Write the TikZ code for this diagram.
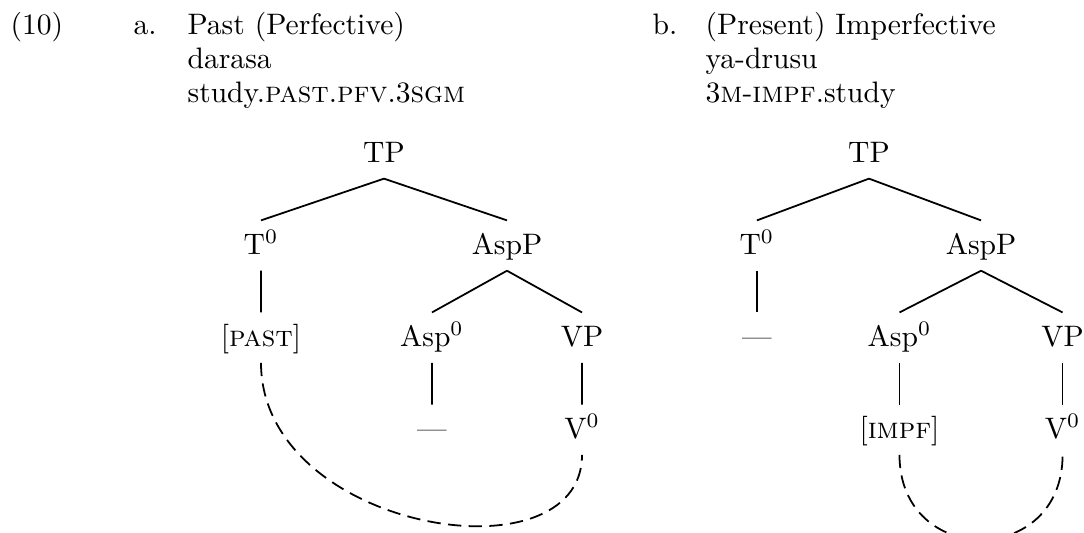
\documentclass[tikz,border=0pt]{standalone}
\usetikzlibrary{trees}

\begin{document}
\begin{tikzpicture}[x=0.3378pt, y=0.3378pt,
level distance=31.1pt,
edge from parent path={(\tikzparentnode.south) -- (\tikzchildnode.north)},
edge from parent/.style={draw, line width=0.6pt},
every child node/.style={cat},
cat/.style={inner sep=2.9pt, text height=8.3pt, text depth=2.5pt},
gloss/.style={inner sep=0pt, anchor=base west},
link/.style={line width=0.6pt, dash pattern=on 4.5pt off 2.5pt}]
\useasboundingbox (0,0) rectangle (1084,533);

% example number and glosses
\node[gloss] (exnum) at (10,498) {(10)};
\node[gloss] (la) at (133,498) {a.};
\node[gloss] (pasttitle) at (187,498) {Past (Perfective)};
\node[gloss] (pastform) at (187,464) {darasa};
\node[gloss] (pastgloss) at (187,430) {study.\textsc{past}.\textsc{pfv}.3\textsc{sgm}};
\node[gloss] (lb) at (652,498) {b.};
\node[gloss] (prestitle) at (705,498) {(Present) Imperfective};
\node[gloss] (presform) at (705,464) {ya-drusu};
\node[gloss] (presgloss) at (705,430) {3\textsc{m}-\textsc{impf}.study};

% tree a
\begin{scope}[level 1/.style={sibling distance=83.1pt},
level 2/.style={sibling distance=50.7pt}]
\node[cat] (tpa) at (384,379.5) {TP}
child{
	node(ta){T$^0$}
	child{
		node(pastfeat){[\textsc{past}]}
	}
}
child{
	node(asppa){AspP}
	child{
		node(aspa){Asp$^0$}
		child{
			node(gapa){---}
		}
	}
	child{
		node(vpa){VP}
		child{
			node(va){V$^0$}
		}
	}
};
\draw[link] (pastfeat.south) .. controls +(0,-168) and +(0,-128) .. (va.south);
\end{scope}

% tree b
\begin{scope}[level 1/.style={sibling distance=75.7pt},
level 2/.style={sibling distance=55.1pt}]
\node[cat] (tpb) at (869,379.5) {TP}
child{
	node(tb){T$^0$}
	child{
		node(gapb){---}
	}
}
child{
	node(asppb){AspP}
	child{
		node(aspb){Asp$^0$}
		child{
			node(impffeat){[\textsc{impf}]}
		}
	}
	child{
		node(vpb){VP}
		child{
			node(vb){V$^0$}
		}
	}
};
\draw[link] (impffeat.south) .. controls +(0,-113) and +(0,-113) .. (vb.south);
\end{scope}
\end{tikzpicture}
\end{document}
